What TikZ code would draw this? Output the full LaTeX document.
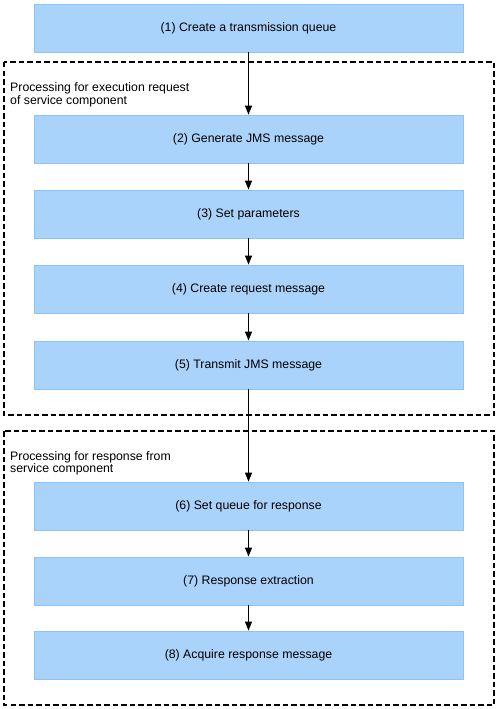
\documentclass[tikz,border=0pt]{standalone}
\usepackage{fontspec}
\setmainfont{Liberation Sans}
\usetikzlibrary{arrows.meta}
\definecolor{boxfill}{RGB}{170,211,252}
\definecolor{boxline}{RGB}{140,196,248}
\begin{document}
\begin{tikzpicture}[x=1pt,y=-1pt,
  stepbox/.style={draw=boxline,fill=boxfill,line width=0.8pt,minimum width=429pt,minimum height=48pt,inner sep=0pt,font=\fontsize{12.3}{11}\selectfont},
  frame/.style={draw=black,line width=1.6pt,dash pattern=on 5.5pt off 3pt},
  lbl/.style={anchor=north west,align=left,inner sep=0pt,font=\fontsize{12.3}{10.5}\selectfont},
  conn/.style={draw=black,line width=0.9pt,-{Triangle[length=9pt,width=7pt]}}]
\useasboundingbox (0,0) rectangle (499,709);
\draw[frame] (4,62) rectangle (494,415);
\draw[frame] (4,431) rectangle (494,705);
\node[lbl] (l1) at (10,82.5) {Processing for execution request\\of service component};
\node[lbl] (l2) at (10,451) {Processing for response from\\service component};
\node[stepbox] (s1) at (248.5,28) {(1) Create a transmission queue};
\node[stepbox] (s2) at (248.5,139) {(2) Generate JMS message};
\node[stepbox] (s3) at (248.5,214) {(3) Set parameters};
\node[stepbox] (s4) at (248.5,289) {(4) Create request message};
\node[stepbox] (s5) at (248.5,365) {(5) Transmit JMS message};
\node[stepbox] (s6) at (248.5,506) {(6) Set queue for response};
\node[stepbox] (s7) at (248.5,581) {(7) Response extraction};
\node[stepbox] (s8) at (248.5,655) {(8) Acquire response message};
\foreach \a/\b in {s1/s2,s2/s3,s3/s4,s4/s5,s5/s6,s6/s7,s7/s8}
  \draw[conn] (\a.south) -- (\b.north);
\end{tikzpicture}
\end{document}
